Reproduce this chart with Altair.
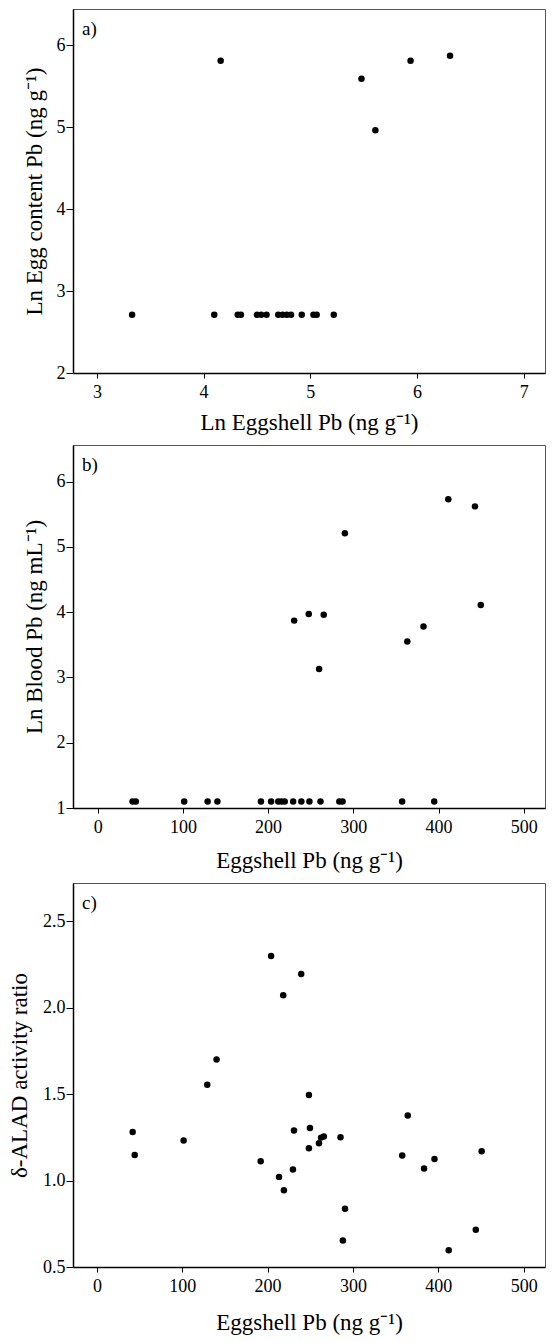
import altair as alt
import pandas as pd

# Panel a: Ln eggshell Pb vs Ln egg content Pb
a_x = [4.16, 5.48, 5.61, 5.94, 6.31,
       3.33, 4.10, 4.32, 4.35, 4.50, 4.54, 4.59, 4.70, 4.74, 4.78, 4.82, 4.92, 5.03, 5.06, 5.22]
a_y = [5.81, 5.59, 4.96, 5.81, 5.87,
       2.71, 2.71, 2.71, 2.71, 2.71, 2.71, 2.71, 2.71, 2.71, 2.71, 2.71, 2.71, 2.71, 2.71, 2.71]

# Panel b: eggshell Pb vs Ln blood Pb
b_x = [290.1, 411.5, 442.8, 449.6, 230.6, 247.7, 265.3, 382.4, 363.4, 259.9,
       40.9, 44.7, 101.5, 129.0, 140.5, 191.6, 203.5, 211.9, 215.7, 219.5,
       229.4, 239.0, 248.5, 261.5, 283.6, 287.4, 357.3, 395.0]
b_y = [5.21, 5.73, 5.62, 4.11, 3.87, 3.97, 3.96, 3.78, 3.55, 3.13,
       1.10, 1.10, 1.10, 1.10, 1.10, 1.10, 1.10, 1.10, 1.10, 1.10,
       1.10, 1.10, 1.10, 1.10, 1.10, 1.10, 1.10, 1.10]

# Panel c: eggshell Pb vs delta-ALAD activity ratio
c_x = [41.9, 44.3, 101.6, 129.3, 140.2, 191.9, 213.4, 219.1, 229.7, 230.9,
       248.4, 248.4, 249.6, 260.2, 262.6, 265.9, 285.4, 288.2, 290.7, 357.7,
       364.2, 383.3, 395.5, 412.2, 443.9, 450.8, 204.1, 218.3, 239.4]
c_y = [1.281, 1.147, 1.231, 1.554, 1.700, 1.112, 1.021, 0.944, 1.064, 1.289,
       1.494, 1.186, 1.304, 1.215, 1.248, 1.254, 1.250, 0.653, 0.837, 1.145,
       1.376, 1.070, 1.124, 0.597, 0.715, 1.169, 2.298, 2.071, 2.194]

FONT = "Liberation Serif"
W = 472


def panel(xs, ys, xdom, ydom, xvals, yvals, xtitle, ytitle, label, h, yfmt,
          xtitle_pad, ytitle_pad):
    df = pd.DataFrame({"x": xs, "y": ys})
    pts = alt.Chart(df).mark_circle(size=42, color="black", opacity=1).encode(
        x=alt.X("x:Q",
                scale=alt.Scale(domain=xdom, nice=False, zero=False),
                axis=alt.Axis(values=xvals, title=xtitle, format="d",
                              titlePadding=xtitle_pad)),
        y=alt.Y("y:Q",
                scale=alt.Scale(domain=ydom, nice=False, zero=False),
                axis=alt.Axis(values=yvals, title=ytitle, format=yfmt,
                              titlePadding=ytitle_pad)),
    )
    lab = alt.Chart(pd.DataFrame({"t": [label]})).mark_text(
        font=FONT, fontSize=19, align="left", baseline="middle", color="black"
    ).encode(x=alt.value(9), y=alt.value(20), text="t:N")
    return alt.layer(pts, lab).properties(width=W, height=h)


pa = panel(a_x, a_y, [2.776, 7.2], [2, 6.44], [3, 4, 5, 6, 7], [2, 3, 4, 5, 6],
           "Ln Eggshell Pb (ng g⁻¹)", "Ln Egg content Pb (ng g⁻¹)", "a)", 364, "d", 10, 10)
pb = panel(b_x, b_y, [-29, 525], [1, 6.56], [0, 100, 200, 300, 400, 500], [1, 2, 3, 4, 5, 6],
           "Eggshell Pb (ng g⁻¹)", "Ln Blood Pb (ng mL⁻¹)", "b)", 363, "d", 13, 10)
pc = panel(c_x, c_y, [-28, 525], [0.5, 2.72], [0, 100, 200, 300, 400, 500], [0.5, 1.0, 1.5, 2.0, 2.5],
           "Eggshell Pb (ng g⁻¹)", "δ-ALAD activity ratio", "c)", 384, ".1f", 16, 11)

chart = alt.vconcat(pa, pb, pc, spacing=9).properties(padding=0).configure_view(
    stroke="#555", strokeWidth=1
).configure_axis(
    grid=False,
    domainColor="black",
    domainWidth=1.5,
    tickColor="black",
    tickSize=5,
    tickWidth=1,
    labelFont=FONT,
    labelFontSize=18,
    labelColor="black",
    labelPadding=5,
    titleFont=FONT,
    titleFontSize=23,
    titleFontWeight="normal",
    titleColor="black",
).configure_axisY(labelPadding=1, tickSize=7)

chart.save("out.html", embed_options={"renderer": "svg", "actions": False})
